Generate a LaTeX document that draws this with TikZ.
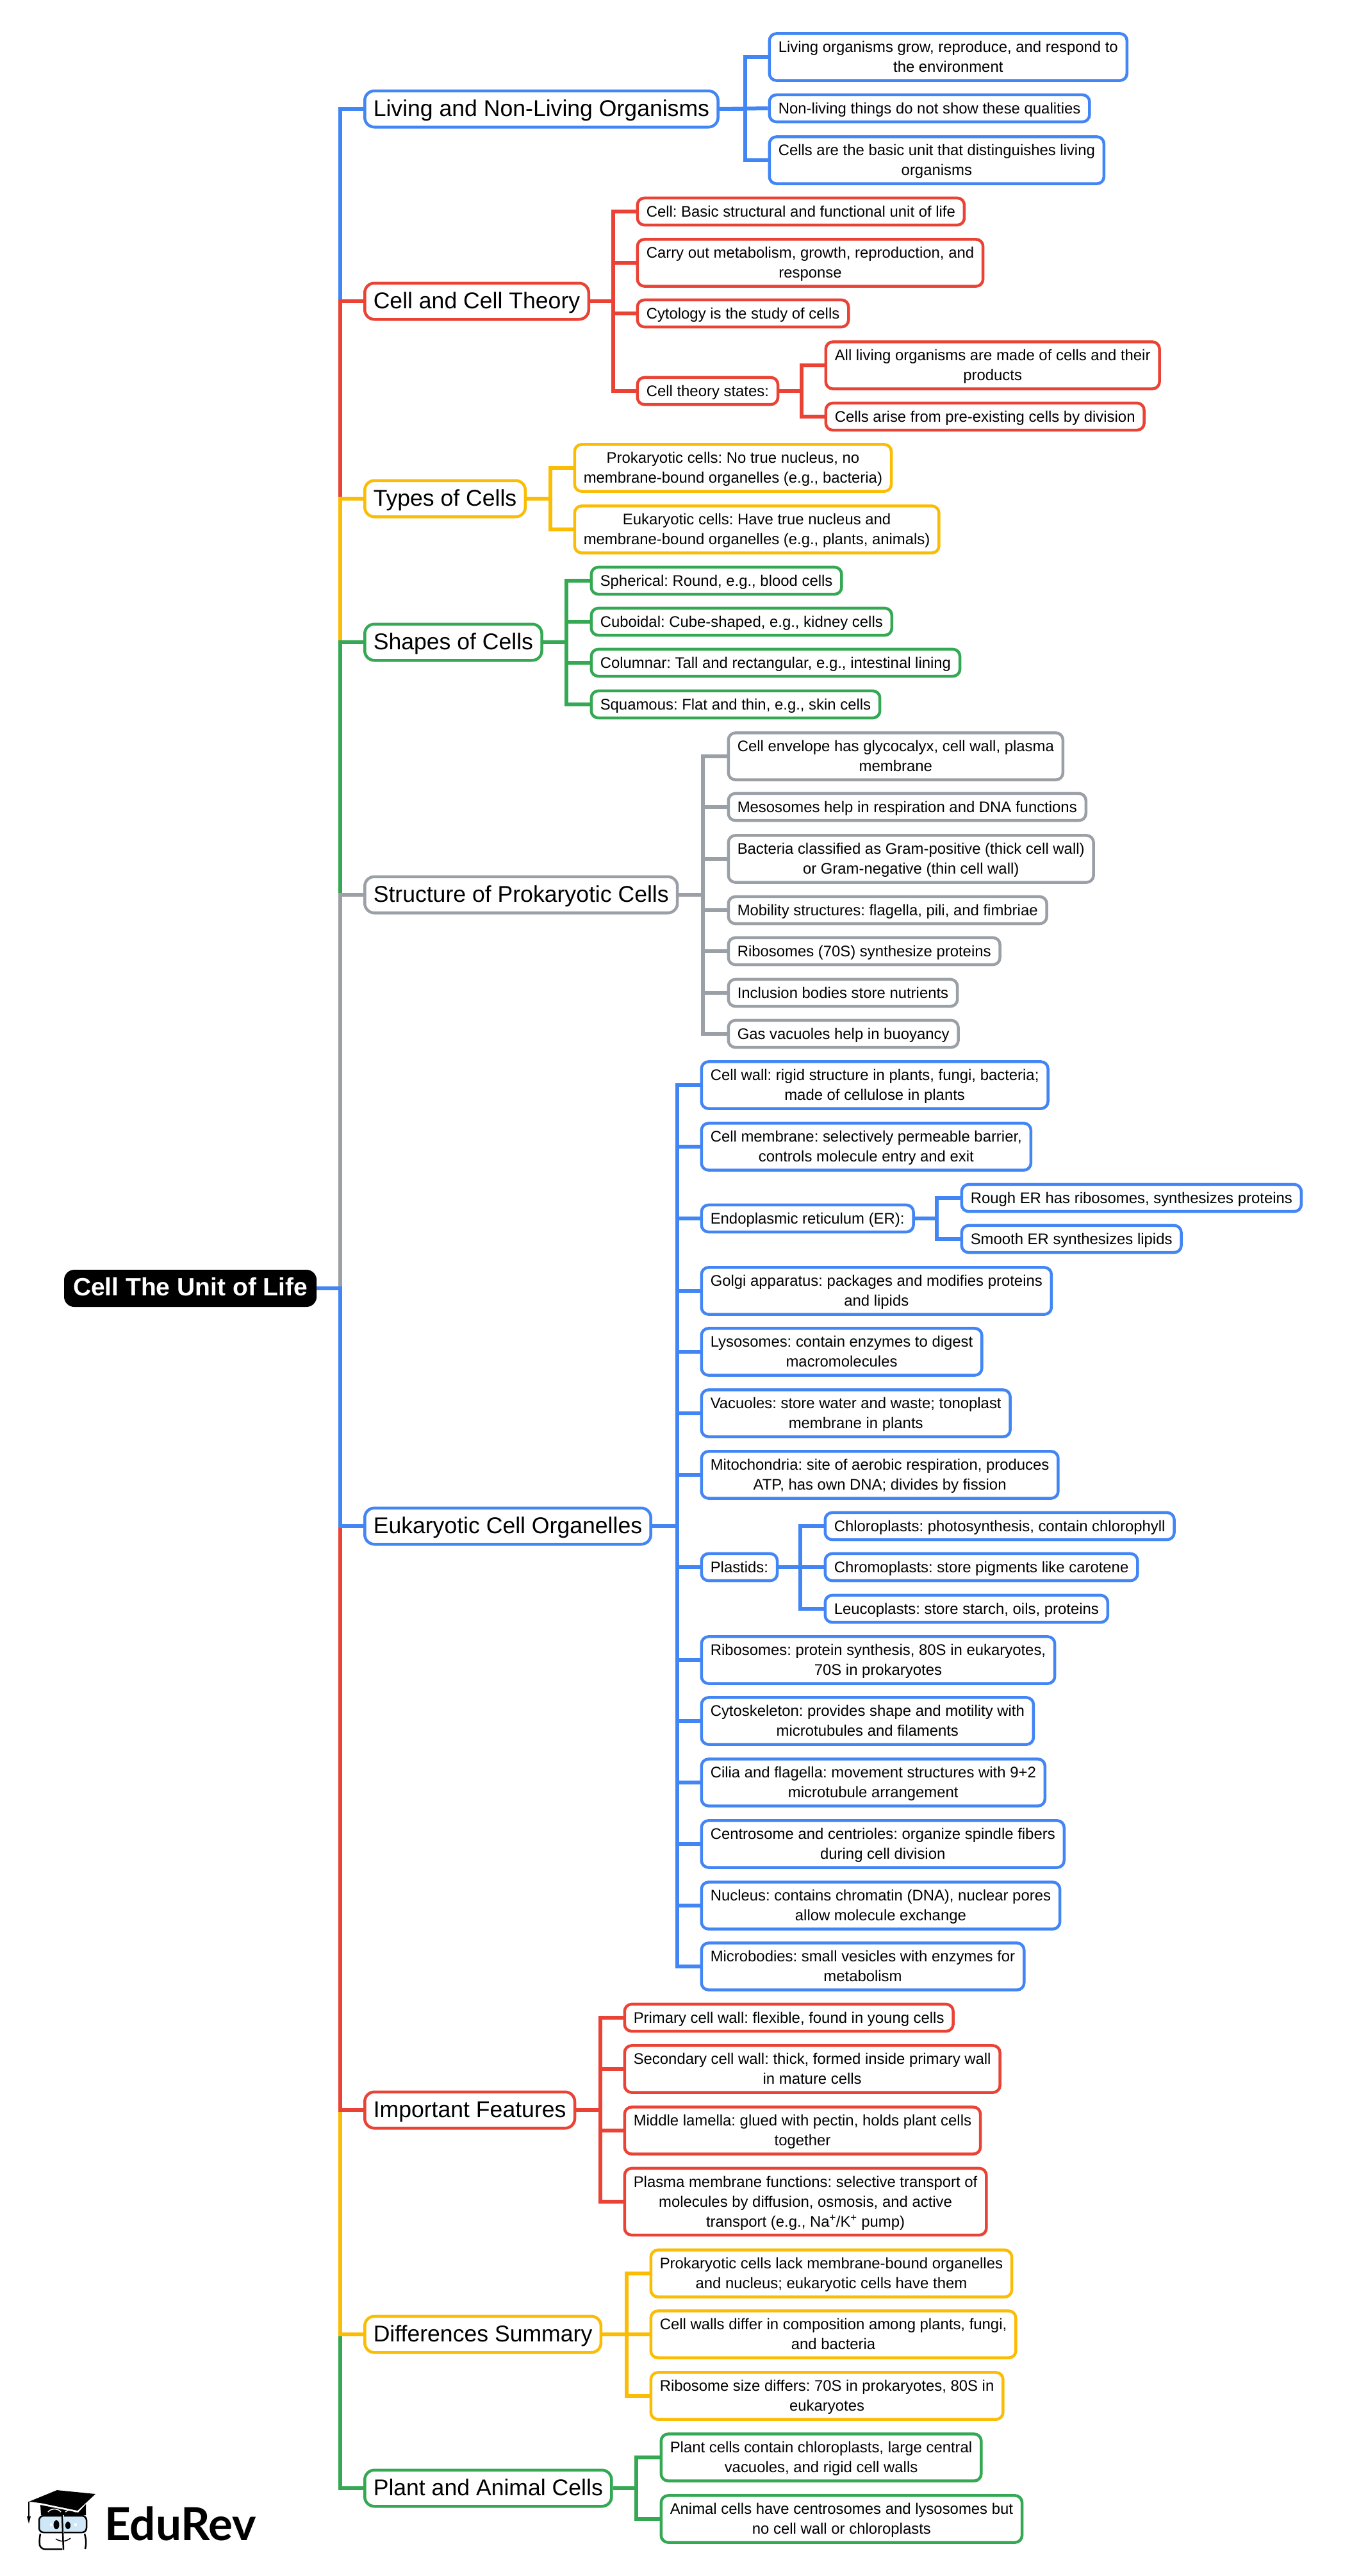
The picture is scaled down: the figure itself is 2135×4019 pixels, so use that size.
\documentclass[tikz,border=0pt]{standalone}
\usepackage{xcolor}
\usepackage{fontspec}
\setmainfont{Liberation Sans}
\newfontfamily\logofont{Lato}
\usepackage{tikz}

\definecolor{cblue}{HTML}{4285F4}
\definecolor{cred}{HTML}{EA4335}
\definecolor{cyellow}{HTML}{FBBC04}
\definecolor{cgreen}{HTML}{34A853}
\definecolor{cgray}{HTML}{9AA0A6}
\definecolor{lens}{HTML}{CFE8F7}

\newcommand{\rootfont}{\fontsize{39}{46}\selectfont\bfseries}
\newcommand{\topfont}{\fontsize{35.6}{44}\selectfont}
\newcommand{\leaffont}{\fontsize{23.9}{31}\selectfont}
\newcommand{\rootstrut}{\leavevmode\vrule height 34pt depth 12pt width 0pt}
\newcommand{\topstrut}{\leavevmode\vrule height 33.5pt depth 10.5pt width 0pt}
\newcommand{\leafstrut}{\leavevmode\vrule height 23.5pt depth 7.5pt width 0pt}
\newcommand{\ltwo}[2]{\leafstrut#1\\#2\leafstrut}
\newcommand{\lthree}[3]{\leafstrut#1\\#2\\#3\leafstrut}

\tikzset{
	rootbox/.style={draw=black, fill=black, text=white, line width=2pt, rounded corners=15pt, anchor=west,
		inner xsep=13pt, inner ysep=5pt, font=\rootfont,
		execute at begin node=\rootfont\rootstrut},
	topbox/.style={draw=#1, fill=white, line width=4.5pt, rounded corners=15pt, anchor=west,
		inner xsep=13.5pt, inner ysep=6.25pt, font=\topfont,
		execute at begin node=\topfont\topstrut},
	leafbox/.style={draw=#1, fill=white, line width=4.5pt, rounded corners=11pt, anchor=west, align=center,
		inner xsep=14pt, inner ysep=5.6pt, font=\leaffont,
		execute at begin node=\leaffont\frenchspacing\leafstrut},
	edgeline/.style={draw=#1, line width=6pt}
}

\begin{document}
\begin{tikzpicture}[x=1pt,y=-1pt]
	\useasboundingbox (0,0) rectangle (2135,4019);

	% stems
	\coordinate (sR) at (530.5,0);
	\coordinate (sA) at (1163,0);
	\coordinate (sB) at (957,0);
	\coordinate (sB4) at (1251,0);
	\coordinate (sC) at (859,0);
	\coordinate (sD) at (884,0);
	\coordinate (sE) at (1097,0);
	\coordinate (sF) at (1057,0);
	\coordinate (sF3) at (1462,0);
	\coordinate (sF8) at (1249,0);
	\coordinate (sG) at (937,0);
	\coordinate (sH) at (978,0);
	\coordinate (sI) at (993,0);

	\node[rootbox] (R) at (100,2010) {Cell The Unit of Life};

	\node[topbox=cblue] (A) at (567,170) {Living and Non-Living Organisms};
	\node[leafbox=cblue] (A1) at (1198.5,89) {\ltwo{Living organisms grow, reproduce, and respond to}{the environment}};
	\node[leafbox=cblue] (A2) at (1198.5,169) {Non-living things do not show these qualities};
	\node[leafbox=cblue] (A3) at (1198.5,250) {\ltwo{Cells are the basic unit that distinguishes living}{organisms}};

	\node[topbox=cred] (B) at (567,470) {Cell and Cell Theory};
	\node[leafbox=cred] (B1) at (992.5,330) {Cell: Basic structural and functional unit of life};
	\node[leafbox=cred] (B2) at (992.5,410) {\ltwo{Carry out metabolism, growth, reproduction, and}{response}};
	\node[leafbox=cred] (B3) at (992.5,489) {Cytology is the study of cells};
	\node[leafbox=cred] (B4) at (992.5,610) {Cell theory states:};
	\node[leafbox=cred] (B41) at (1286.5,570) {\ltwo{All living organisms are made of cells and their}{products}};
	\node[leafbox=cred] (B42) at (1286.5,650) {Cells arise from pre-existing cells by division};

	\node[topbox=cyellow] (C) at (567,778) {Types of Cells};
	\node[leafbox=cyellow] (C1) at (894.5,730) {\ltwo{Prokaryotic cells: No true nucleus, no}{membrane-bound organelles (e.g., bacteria)}};
	\node[leafbox=cyellow] (C2) at (894.5,826) {\ltwo{Eukaryotic cells: Have true nucleus and}{membrane-bound organelles (e.g., plants, animals)}};

	\node[topbox=cgreen] (D) at (567,1002) {Shapes of Cells};
	\node[leafbox=cgreen] (D1) at (920.5,906) {Spherical: Round, e.g., blood cells};
	\node[leafbox=cgreen] (D2) at (920.5,970) {Cuboidal: Cube-shaped, e.g., kidney cells};
	\node[leafbox=cgreen] (D3) at (920.5,1034) {Columnar: Tall and rectangular, e.g., intestinal lining};
	\node[leafbox=cgreen] (D4) at (920.5,1099) {Squamous: Flat and thin, e.g., skin cells};

	\node[topbox=cgray] (E) at (567,1396) {Structure of Prokaryotic Cells};
	\node[leafbox=cgray] (E1) at (1134.5,1180) {\ltwo{Cell envelope has glycocalyx, cell wall, plasma}{membrane}};
	\node[leafbox=cgray] (E2) at (1134.5,1259) {Mesosomes help in respiration and DNA functions};
	\node[leafbox=cgray] (E3) at (1134.5,1340) {\ltwo{Bacteria classified as Gram-positive (thick cell wall)}{or Gram-negative (thin cell wall)}};
	\node[leafbox=cgray] (E4) at (1134.5,1420) {Mobility structures: flagella, pili, and fimbriae};
	\node[leafbox=cgray] (E5) at (1134.5,1484) {Ribosomes (70S) synthesize proteins};
	\node[leafbox=cgray] (E6) at (1134.5,1549) {Inclusion bodies store nutrients};
	\node[leafbox=cgray] (E7) at (1134.5,1613) {Gas vacuoles help in buoyancy};

	\node[topbox=cblue] (F) at (567,2381) {Eukaryotic Cell Organelles};
	\node[leafbox=cblue] (F1) at (1092.5,1693) {\ltwo{Cell wall: rigid structure in plants, fungi, bacteria;}{made of cellulose in plants}};
	\node[leafbox=cblue] (F2) at (1092.5,1789) {\ltwo{Cell membrane: selectively permeable barrier,}{controls molecule entry and exit}};
	\node[leafbox=cblue] (F3) at (1092.5,1901) {Endoplasmic reticulum (ER):};
	\node[leafbox=cblue] (F31) at (1498.5,1869) {Rough ER has ribosomes, synthesizes proteins};
	\node[leafbox=cblue] (F32) at (1498.5,1933) {Smooth ER synthesizes lipids};
	\node[leafbox=cblue] (F4) at (1092.5,2014) {\ltwo{Golgi apparatus: packages and modifies proteins}{and lipids}};
	\node[leafbox=cblue] (F5) at (1092.5,2109) {\ltwo{Lysosomes: contain enzymes to digest}{macromolecules}};
	\node[leafbox=cblue] (F6) at (1092.5,2205) {\ltwo{Vacuoles: store water and waste; tonoplast}{membrane in plants}};
	\node[leafbox=cblue] (F7) at (1092.5,2301) {\ltwo{Mitochondria: site of aerobic respiration, produces}{ATP, has own DNA; divides by fission}};
	\node[leafbox=cblue] (F8) at (1092.5,2445) {Plastids:};
	\node[leafbox=cblue] (F81) at (1285.5,2381) {Chloroplasts: photosynthesis, contain chlorophyll};
	\node[leafbox=cblue] (F82) at (1285.5,2445) {Chromoplasts: store pigments like carotene};
	\node[leafbox=cblue] (F83) at (1285.5,2510) {Leucoplasts: store starch, oils, proteins};
	\node[leafbox=cblue] (F9) at (1092.5,2590) {\ltwo{Ribosomes: protein synthesis, 80S in eukaryotes,}{70S in prokaryotes}};
	\node[leafbox=cblue] (F10) at (1092.5,2685) {\ltwo{Cytoskeleton: provides shape and motility with}{microtubules and filaments}};
	\node[leafbox=cblue] (F11) at (1092.5,2781) {\ltwo{Cilia and flagella: movement structures with 9+2}{microtubule arrangement}};
	\node[leafbox=cblue] (F12) at (1092.5,2877) {\ltwo{Centrosome and centrioles: organize spindle fibers}{during cell division}};
	\node[leafbox=cblue] (F13) at (1092.5,2973) {\ltwo{Nucleus: contains chromatin (DNA), nuclear pores}{allow molecule exchange}};
	\node[leafbox=cblue] (F14) at (1092.5,3068) {\ltwo{Microbodies: small vesicles with enzymes for}{metabolism}};

	\node[topbox=cred] (G) at (567,3292) {Important Features};
	\node[leafbox=cred] (G1) at (972.5,3148) {Primary cell wall: flexible, found in young cells};
	\node[leafbox=cred] (G2) at (972.5,3228) {\ltwo{Secondary cell wall: thick, formed inside primary wall}{in mature cells}};
	\node[leafbox=cred] (G3) at (972.5,3324) {\ltwo{Middle lamella: glued with pectin, holds plant cells}{together}};
	\node[leafbox=cred] (G4) at (972.5,3435) {\lthree{Plasma membrane functions: selective transport of}{molecules by diffusion, osmosis, and active}{transport (e.g., Na\textsuperscript{+}/K\textsuperscript{+} pump)}};

	\node[topbox=cyellow] (H) at (567,3642) {Differences Summary};
	\node[leafbox=cyellow] (H1) at (1013.5,3547) {\ltwo{Prokaryotic cells lack membrane-bound organelles}{and nucleus; eukaryotic cells have them}};
	\node[leafbox=cyellow] (H2) at (1013.5,3642) {\ltwo{Cell walls differ in composition among plants, fungi,}{and bacteria}};
	\node[leafbox=cyellow] (H3) at (1013.5,3738) {\ltwo{Ribosome size differs: 70S in prokaryotes, 80S in}{eukaryotes}};

	\node[topbox=cgreen] (I) at (567,3882) {Plant and Animal Cells};
	\node[leafbox=cgreen] (I1) at (1029.5,3834) {\ltwo{Plant cells contain chloroplasts, large central}{vacuoles, and rigid cell walls}};
	\node[leafbox=cgreen] (I2) at (1029.5,3930) {\ltwo{Animal cells have centrosomes and lysosomes but}{no cell wall or chloroplasts}};

	% main spine, later paths lie on top
	\draw [edgeline=cblue] (R.east) -- (R.east -| sR) -- (A.west -| sR) -- (A.west);
	\draw [edgeline=cred] (R.east) -- (R.east -| sR) -- (B.west -| sR) -- (B.west);
	\draw [edgeline=cyellow] (R.east) -- (R.east -| sR) -- (C.west -| sR) -- (C.west);
	\draw [edgeline=cgreen] (R.east) -- (R.east -| sR) -- (D.west -| sR) -- (D.west);
	\draw [edgeline=cgray] (R.east) -- (R.east -| sR) -- (E.west -| sR) -- (E.west);
	\draw [edgeline=cgreen] (R.east) -- (R.east -| sR) -- (I.west -| sR) -- (I.west);
	\draw [edgeline=cyellow] (R.east) -- (R.east -| sR) -- (H.west -| sR) -- (H.west);
	\draw [edgeline=cred] (R.east) -- (R.east -| sR) -- (G.west -| sR) -- (G.west);
	\draw [edgeline=cblue] (R.east) -- (R.east -| sR) -- (F.west -| sR) -- (F.west);

	\draw [edgeline=cblue] (A.east) -- (A.east -| sA) -- (A1.west -| sA) -- (A1.west);
	\draw [edgeline=cblue] (A.east) -- (A2.west);
	\draw [edgeline=cblue] (A.east) -- (A.east -| sA) -- (A3.west -| sA) -- (A3.west);

	\draw [edgeline=cred] (B.east) -- (B.east -| sB) -- (B1.west -| sB) -- (B1.west);
	\draw [edgeline=cred] (B.east) -- (B.east -| sB) -- (B2.west -| sB) -- (B2.west);
	\draw [edgeline=cred] (B.east) -- (B.east -| sB) -- (B3.west -| sB) -- (B3.west);
	\draw [edgeline=cred] (B.east) -- (B.east -| sB) -- (B4.west -| sB) -- (B4.west);
	\draw [edgeline=cred] (B4.east) -- (B4.east -| sB4) -- (B41.west -| sB4) -- (B41.west);
	\draw [edgeline=cred] (B4.east) -- (B4.east -| sB4) -- (B42.west -| sB4) -- (B42.west);

	\draw [edgeline=cyellow] (C.east) -- (C.east -| sC) -- (C1.west -| sC) -- (C1.west);
	\draw [edgeline=cyellow] (C.east) -- (C.east -| sC) -- (C2.west -| sC) -- (C2.west);

	\draw [edgeline=cgreen] (D.east) -- (D.east -| sD) -- (D1.west -| sD) -- (D1.west);
	\draw [edgeline=cgreen] (D.east) -- (D.east -| sD) -- (D2.west -| sD) -- (D2.west);
	\draw [edgeline=cgreen] (D.east) -- (D.east -| sD) -- (D3.west -| sD) -- (D3.west);
	\draw [edgeline=cgreen] (D.east) -- (D.east -| sD) -- (D4.west -| sD) -- (D4.west);

	\draw [edgeline=cgray] (E.east) -- (E.east -| sE) -- (E1.west -| sE) -- (E1.west);
	\draw [edgeline=cgray] (E.east) -- (E.east -| sE) -- (E2.west -| sE) -- (E2.west);
	\draw [edgeline=cgray] (E.east) -- (E.east -| sE) -- (E3.west -| sE) -- (E3.west);
	\draw [edgeline=cgray] (E.east) -- (E.east -| sE) -- (E4.west -| sE) -- (E4.west);
	\draw [edgeline=cgray] (E.east) -- (E.east -| sE) -- (E5.west -| sE) -- (E5.west);
	\draw [edgeline=cgray] (E.east) -- (E.east -| sE) -- (E6.west -| sE) -- (E6.west);
	\draw [edgeline=cgray] (E.east) -- (E.east -| sE) -- (E7.west -| sE) -- (E7.west);

	\draw [edgeline=cblue] (F.east) -- (F.east -| sF) -- (F1.west -| sF) -- (F1.west);
	\draw [edgeline=cblue] (F.east) -- (F.east -| sF) -- (F2.west -| sF) -- (F2.west);
	\draw [edgeline=cblue] (F.east) -- (F.east -| sF) -- (F3.west -| sF) -- (F3.west);
	\draw [edgeline=cblue] (F.east) -- (F.east -| sF) -- (F4.west -| sF) -- (F4.west);
	\draw [edgeline=cblue] (F.east) -- (F.east -| sF) -- (F5.west -| sF) -- (F5.west);
	\draw [edgeline=cblue] (F.east) -- (F.east -| sF) -- (F6.west -| sF) -- (F6.west);
	\draw [edgeline=cblue] (F.east) -- (F.east -| sF) -- (F7.west -| sF) -- (F7.west);
	\draw [edgeline=cblue] (F.east) -- (F.east -| sF) -- (F8.west -| sF) -- (F8.west);
	\draw [edgeline=cblue] (F.east) -- (F.east -| sF) -- (F9.west -| sF) -- (F9.west);
	\draw [edgeline=cblue] (F.east) -- (F.east -| sF) -- (F10.west -| sF) -- (F10.west);
	\draw [edgeline=cblue] (F.east) -- (F.east -| sF) -- (F11.west -| sF) -- (F11.west);
	\draw [edgeline=cblue] (F.east) -- (F.east -| sF) -- (F12.west -| sF) -- (F12.west);
	\draw [edgeline=cblue] (F.east) -- (F.east -| sF) -- (F13.west -| sF) -- (F13.west);
	\draw [edgeline=cblue] (F.east) -- (F.east -| sF) -- (F14.west -| sF) -- (F14.west);
	\draw [edgeline=cblue] (F3.east) -- (F3.east -| sF3) -- (F31.west -| sF3) -- (F31.west);
	\draw [edgeline=cblue] (F3.east) -- (F3.east -| sF3) -- (F32.west -| sF3) -- (F32.west);
	\draw [edgeline=cblue] (F8.east) -- (F8.east -| sF8) -- (F81.west -| sF8) -- (F81.west);
	\draw [edgeline=cblue] (F8.east) -- (F82.west);
	\draw [edgeline=cblue] (F8.east) -- (F8.east -| sF8) -- (F83.west -| sF8) -- (F83.west);

	\draw [edgeline=cred] (G.east) -- (G.east -| sG) -- (G1.west -| sG) -- (G1.west);
	\draw [edgeline=cred] (G.east) -- (G.east -| sG) -- (G2.west -| sG) -- (G2.west);
	\draw [edgeline=cred] (G.east) -- (G.east -| sG) -- (G3.west -| sG) -- (G3.west);
	\draw [edgeline=cred] (G.east) -- (G.east -| sG) -- (G4.west -| sG) -- (G4.west);

	\draw [edgeline=cyellow] (H.east) -- (H.east -| sH) -- (H1.west -| sH) -- (H1.west);
	\draw [edgeline=cyellow] (H.east) -- (H2.west);
	\draw [edgeline=cyellow] (H.east) -- (H.east -| sH) -- (H3.west -| sH) -- (H3.west);

	\draw [edgeline=cgreen] (I.east) -- (I.east -| sI) -- (I1.west -| sI) -- (I1.west);
	\draw [edgeline=cgreen] (I.east) -- (I.east -| sI) -- (I2.west -| sI) -- (I2.west);

	% logo
	\fill (45,3903) -- (89,3885) -- (149,3891) -- (121,3917) -- (63,3905) -- cycle;
	\fill (63,3908) -- (122,3920) -- (134,3907) -- (134,3924) -- (64,3924) -- cycle;
	\draw [line width=1.5pt] (45,3903) -- (45,3926);
	\fill (42,3926) -- (48,3926) -- (45,3937) -- cycle;
	\draw [white, line width=1.5pt] (75,3919) .. controls (80,3913) and (90,3913) .. (95,3919);
	\draw [white, line width=1.5pt] (102,3919) .. controls (106,3915) and (112,3915) .. (118,3919);
	\draw [fill=lens, line width=2.5pt, rounded corners=7pt] (61,3925) rectangle (135,3951);
	\draw [line width=2.5pt, rounded corners=7pt] (63,3953) -- (61,3965) -- (63,3977) -- (97,3977);
	\draw [line width=2.5pt, rounded corners=7pt] (132,3953) -- (135,3965) -- (133,3977);
	\draw [white, line width=3pt] (98,3924) -- (98,3952);
	\draw [line width=2.5pt] (97,3923) -- (99,3978);
	\fill (88,3939) ellipse (4.5 and 7);
	\fill (106,3940) ellipse (4 and 6);
	\fill [white] (78,3937) rectangle (82,3941);
	\fill [white] (116,3937) rectangle (120,3941);
	\draw [line width=1.5pt] (87,3961) .. controls (95,3966) and (102,3966) .. (110,3960);
	\node [font=\logofont\bfseries\fontsize{71}{75}\selectfont, anchor=base west, inner sep=0pt] (logo) at (163,3963) {EduRev};
\end{tikzpicture}
\end{document}
